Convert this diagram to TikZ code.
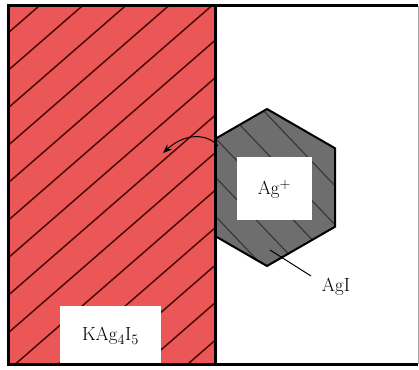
\documentclass[tikz,border=0pt]{standalone}
\usetikzlibrary{arrows.meta}
\definecolor{redfill}{HTML}{EB5757}
\definecolor{redhatch}{HTML}{4A0808}
\definecolor{hexfill}{HTML}{6E6E6E}
\definecolor{hexhatch}{HTML}{383838}
\tikzset{
  lbl/.style={font=\fontsize{19}{22}\selectfont, inner sep=0pt},
  whitebox/.style={fill=white, draw=none},
}
\begin{document}
\begin{tikzpicture}[x=1pt,y=-1pt]
\useasboundingbox (0,0) rectangle (419,369);
\fill[white] (0,0) rectangle (419,369);
% hexagon
\coordinate (h1) at (267,109);
\coordinate (h2) at (335,148.25);
\coordinate (h3) at (335,226.75);
\coordinate (h4) at (267,266);
\coordinate (h5) at (199,226.75);
\coordinate (h6) at (199,148.25);
\fill[hexfill] (h1)--(h2)--(h3)--(h4)--(h5)--(h6)--cycle;
\begin{scope}
  \clip (h1)--(h2)--(h3)--(h4)--(h5)--(h6)--cycle;
  \foreach \c in {-166,-127,-88,-49,-10}{
    \draw[hexhatch, line width=1.2] (190,{1.05*190+\c}) -- (345,{1.05*345+\c});
  }
\end{scope}
\draw[black, line width=2, line join=miter] (h1)--(h2)--(h3)--(h4)--(h5)--(h6)--cycle;
% Ag+ box
\fill[whitebox] (237,157) rectangle (312,220);
\node[lbl] (ag) at (274.5,189) {Ag$^{+}$};
% red block
\fill[redfill] (8,6) rectangle (215,364);
\begin{scope}
  \clip (8,6) rectangle (215,364);
  \foreach \k in {0,...,13}{
    \draw[redhatch, line width=1.5] (8,{33+37.5*\k}) -- (215,{33+37.5*\k-180.1});
  }
\end{scope}
% frame
\draw[black, line width=3] (418,6) -- (8,6) -- (8,364) -- (418,364);
\draw[black, line width=3] (215,6) -- (215,364);
\draw[gray!70, line width=1] (418,6) -- (418,364);
% KAg4I5 box
\fill[whitebox] (60,306) rectangle (161,362.5);
\node[lbl] (kag) at (110.5,336) {KAg$_4$I$_5$};
% arrow
\coordinate (astart) at (218,146);
\coordinate (aend) at (163,153);
\draw[black, line width=1, -{Stealth[length=9pt,width=7pt]}] (astart) .. controls (208,134) and (186,132) .. (aend);
% AgI label
\node[lbl] (agi) at (336,287) {AgI};
\coordinate (lead) at (270,250);
\draw[black, line width=1] (lead) -- (311,276);
\end{tikzpicture}
\end{document}
